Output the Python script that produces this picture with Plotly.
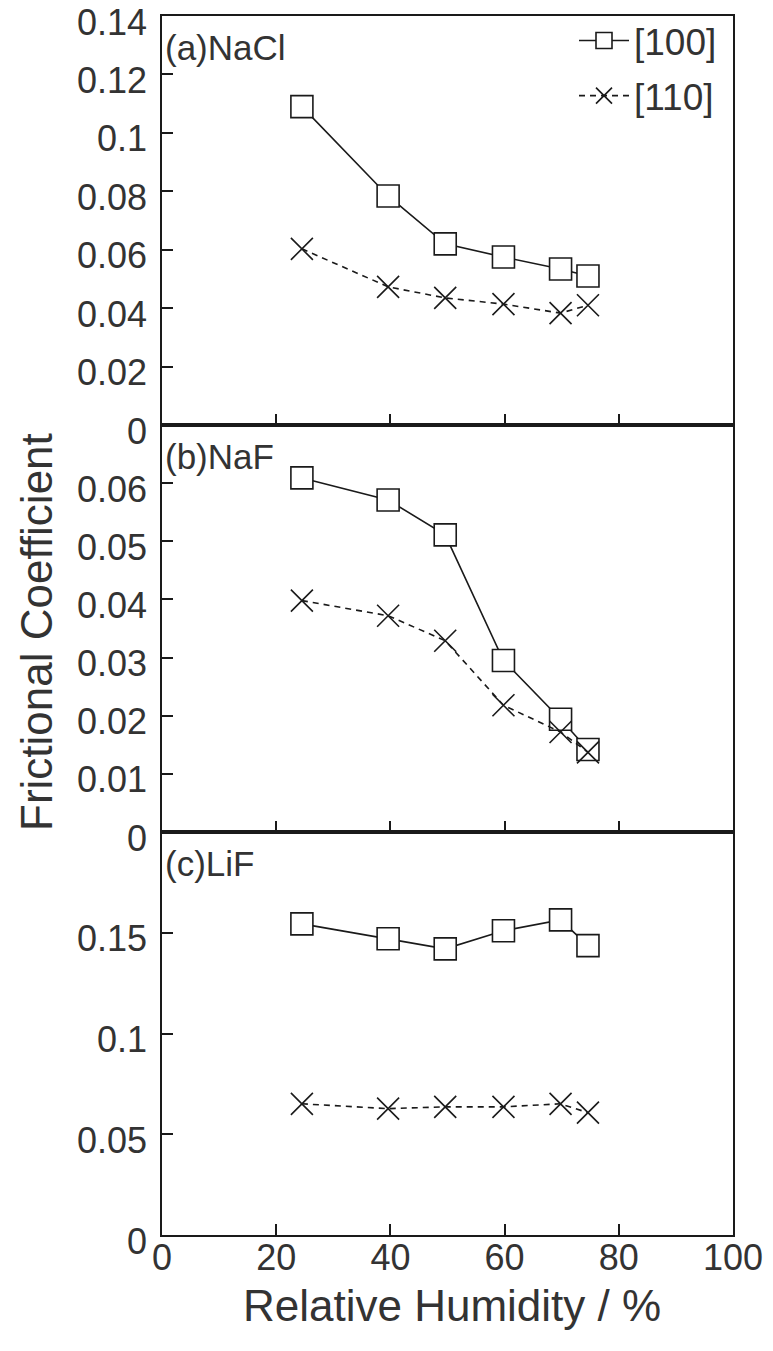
import plotly.graph_objects as go

# ---------------- data ----------------
rh = [24.5, 39.6, 49.6, 59.8, 69.8, 74.6]

nacl_100 = [0.109, 0.0784, 0.062, 0.0575, 0.0534, 0.051]
nacl_110 = [0.0603, 0.0473, 0.0435, 0.0414, 0.0383, 0.041]

naf_100 = [0.0609, 0.0571, 0.0511, 0.0295, 0.0194, 0.0142]
naf_110 = [0.0398, 0.0372, 0.0329, 0.0218, 0.0172, 0.0137]

lif_100 = [0.1544, 0.147, 0.142, 0.151, 0.1564, 0.1436]
lif_110 = [0.0651, 0.0627, 0.0636, 0.0636, 0.0651, 0.0607]

series_names = ["[100]", "[110]"]
panel_labels = ["(a)NaCl", "(b)NaF", "(c)LiF"]

x_ticks = [0, 20, 40, 60, 80, 100]
y_ticks_a = [0, 0.02, 0.04, 0.06, 0.08, 0.1, 0.12, 0.14]
y_ticks_b = [0, 0.01, 0.02, 0.03, 0.04, 0.05, 0.06]
y_ticks_c = [0, 0.05, 0.1, 0.15]

# ---------------- styling ----------------
FONT = "Liberation Sans, Arial, Helvetica, sans-serif"
TXT = "#333333"
INK = "#1a1a1a"
OFF = 8                      # page body margin of the html page
W, H = 773 - OFF, 1351 - OFF
ML, MR, MT, MB = 162 - OFF, 40, 16 - OFF, 116
PW = W - ML - MR
PH = H - MT - MB


def px_x(px):
    """page x pixel -> paper fraction"""
    return (px - OFF - ML) / PW


def px_y(py):
    """page y pixel -> paper fraction"""
    return (H - MB - (py - OFF)) / PH


panels = [
    (nacl_100, nacl_110, "x", "y", [0, 0.14001], y_ticks_a),
    (naf_100, naf_110, "x2", "y2", [0, 0.07], y_ticks_b),
    (lif_100, lif_110, "x3", "y3", [0, 0.2], y_ticks_c),
]

fig = go.Figure()
for i, (s100, s110, xa, ya, yr, yt) in enumerate(panels):
    fig.add_trace(go.Scatter(
        x=rh, y=s100, xaxis=xa, yaxis=ya, mode="lines+markers",
        name=series_names[0], showlegend=(i == 0), legendgroup="g100",
        line=dict(color=INK, width=1.6, dash="solid"),
        marker=dict(symbol="square", size=22, color="white",
                    line=dict(color=INK, width=1.6)),
    ))
    fig.add_trace(go.Scatter(
        x=rh, y=s110, xaxis=xa, yaxis=ya, mode="lines+markers",
        name=series_names[1], showlegend=(i == 0), legendgroup="g110",
        line=dict(color=INK, width=1.6, dash="6px,5px"),
        marker=dict(symbol="x-thin-open", size=22, color=INK,
                    line=dict(color=INK, width=1.6)),
    ))

b_top = px_y(425)
c_top = px_y(832)
domains = [[b_top, 1.0], [c_top, b_top], [0.0, c_top]]

axis_common = dict(
    showline=True, linecolor=INK, linewidth=1.6, mirror=True,
    ticks="inside", ticklen=11, tickwidth=1.6, tickcolor=INK,
    showgrid=False, zeroline=False, automargin=False,
    ticklabeloverflow="allow",
    tickfont=dict(family=FONT, size=36, color=TXT),
)

layout = dict(
    width=W, height=H,
    margin=dict(l=ML, r=MR, t=MT, b=MB, autoexpand=False),
    paper_bgcolor="white", plot_bgcolor="white",
    font=dict(family=FONT, color=TXT),
    showlegend=True,
    legend=dict(
        x=px_x(722), y=px_y(10), xanchor="right", yanchor="top",
        bgcolor="rgba(0,0,0,0)", borderwidth=0,
        font=dict(family=FONT, size=37, color=TXT),
        itemwidth=50, tracegroupgap=4, traceorder="grouped",
    ),
)

x_names = ["xaxis", "xaxis2", "xaxis3"]
y_names = ["yaxis", "yaxis2", "yaxis3"]
for i, (s100, s110, xa, ya, yr, yt) in enumerate(panels):
    xa_d = dict(axis_common)
    xa_d.update(range=[0, 100], tickvals=x_ticks,
                anchor=ya, showticklabels=(i == 2), ticklabelstandoff=-10)
    if i > 0:
        xa_d["matches"] = "x"
    layout[x_names[i]] = xa_d
    ya_d = dict(axis_common)
    ya_d.update(range=yr, tickvals=yt, domain=domains[i], anchor=xa,
                ticklabelstandoff=6, ticklabelshift=6)
    layout[y_names[i]] = ya_d

fig.update_layout(**layout)

# panel labels
for i, lab in enumerate(panel_labels):
    yref = ["y domain", "y2 domain", "y3 domain"][i]
    xref = ["x domain", "x2 domain", "x3 domain"][i]
    fig.add_annotation(text=lab, xref=xref, yref=yref, x=0, y=1,
                       xanchor="left", yanchor="top", xshift=1, yshift=-10,
                       showarrow=False,
                       font=dict(family=FONT, size=35, color=TXT))

# axis titles
fig.add_annotation(text="Frictional Coefficient", xref="paper", yref="paper",
                   x=px_x(36), y=px_y(632),
                   xanchor="center", yanchor="middle", textangle=-90,
                   showarrow=False, font=dict(family=FONT, size=44, color=TXT))
fig.add_annotation(text="Relative Humidity / %", xref="paper", yref="paper",
                   x=px_x(452), y=px_y(1305),
                   xanchor="center", yanchor="middle",
                   showarrow=False, font=dict(family=FONT, size=44, color=TXT))

fig.write_html("out.html")
